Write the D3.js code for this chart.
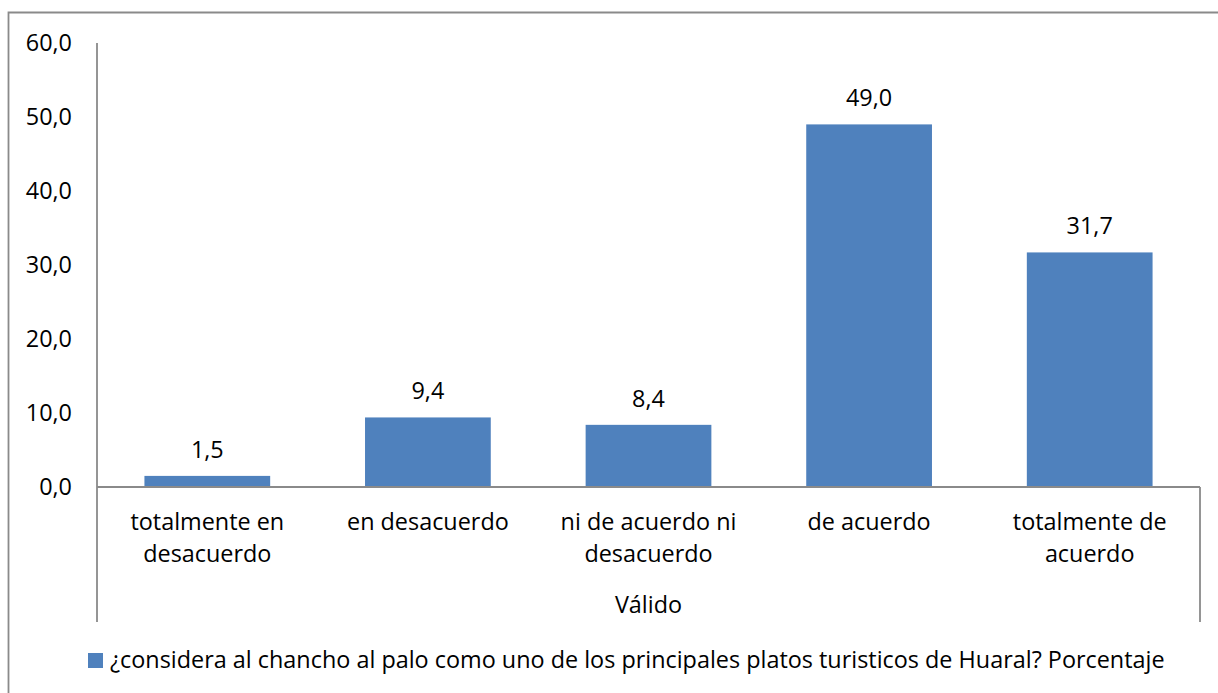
<!DOCTYPE html>
<html>
<head>
<meta charset="utf-8">
<script src="https://cdn.jsdelivr.net/npm/d3@7"></script>
<style>
  html, body { margin: 0; padding: 0; background: #fff; }
  svg { display: block; font-family: "Open Sans", "Noto Sans", sans-serif; }
</style>
</head>
<body>
<svg id="chart" width="1218" height="693"></svg>
<script>
// Survey answers and their percentages
const categories = [
  ["totalmente en", "desacuerdo"],
  ["en desacuerdo"],
  ["ni de acuerdo ni", "desacuerdo"],
  ["de acuerdo"],
  ["totalmente de", "acuerdo"]
];
const values = [1.5, 9.4, 8.4, 49.0, 31.7];
const yTicks = [0, 10, 20, 30, 40, 50, 60];
const groupLabel = "Válido";
const seriesName = "¿considera al chancho al palo como uno de los principales platos turisticos de Huaral? Porcentaje";

const W = 1218, H = 693;
const plot = { left: 97, right: 1200, top: 43, bottom: 487, axisFoot: 622 };
const barColor = "#4F81BD";
const lineColor = "#8a8a8a";
const fontSize = 23.4;

const svg = d3.select("#chart");
const comma = v => d3.format(".1f")(v).replace(".", ",");

// Outer chart frame (clipped on the right and bottom)
svg.append("path")
  .attr("d", `M8.5,${H + 2} L8.5,12.5 L${W + 2},12.5`)
  .attr("fill", "none")
  .attr("stroke", lineColor)
  .attr("stroke-width", 1.8);

const x = d3.scaleBand()
  .domain(d3.range(values.length))
  .range([plot.left, plot.right])
  .paddingInner(0.43)
  .paddingOuter(0.215);

const y = d3.scaleLinear()
  .domain([0, 60])
  .range([plot.bottom, plot.top]);

// Value axis labels
const yAxis = d3.axisLeft(y)
  .tickValues(yTicks)
  .tickFormat(comma)
  .tickSize(0)
  .tickPadding(25);
const gy = svg.append("g")
  .attr("transform", `translate(${plot.left},0)`)
  .call(yAxis);
gy.select(".domain").remove();
gy.selectAll("text")
  .attr("font-size", fontSize)
  .attr("font-family", "\"Open Sans\", sans-serif")
  .attr("fill", "#000");

// Bars
svg.append("g")
  .selectAll("rect")
  .data(values)
  .join("rect")
  .attr("x", (d, i) => x(i))
  .attr("y", d => y(d))
  .attr("width", x.bandwidth())
  .attr("height", d => y(0) - y(d))
  .attr("fill", barColor);

// Value labels above bars
svg.append("g")
  .selectAll("text")
  .data(values)
  .join("text")
  .attr("x", (d, i) => x(i) + x.bandwidth() / 2)
  .attr("y", d => y(d) - 18)
  .attr("text-anchor", "middle")
  .attr("font-size", fontSize)
  .attr("fill", "#000")
  .text(d => comma(d));

// Axis lines
const axes = svg.append("g")
  .attr("stroke", lineColor)
  .attr("stroke-width", 1.8)
  .attr("fill", "none");
axes.append("line")
  .attr("x1", plot.left).attr("x2", plot.left)
  .attr("y1", y(60)).attr("y2", plot.axisFoot);
axes.append("line")
  .attr("x1", plot.left).attr("x2", plot.right)
  .attr("y1", y(0)).attr("y2", y(0));
axes.append("line")
  .attr("x1", plot.right).attr("x2", plot.right)
  .attr("y1", y(0)).attr("y2", plot.axisFoot);

// Category labels (one or two lines)
const cat = svg.append("g")
  .selectAll("text")
  .data(categories)
  .join("text")
  .attr("x", (d, i) => x(i) + x.bandwidth() / 2)
  .attr("y", 530)
  .attr("text-anchor", "middle")
  .attr("font-size", fontSize)
  .attr("fill", "#000");
cat.selectAll("tspan")
  .data(d => d)
  .join("tspan")
  .attr("x", function () { return d3.select(this.parentNode).attr("x"); })
  .attr("dy", (d, i) => i === 0 ? 0 : 32)
  .text(d => d);

// Group label under the categories
svg.append("text")
  .attr("x", (plot.left + plot.right) / 2)
  .attr("y", 613)
  .attr("text-anchor", "middle")
  .attr("font-size", fontSize)
  .attr("fill", "#000")
  .text(groupLabel);

// Legend
const legend = svg.append("g");
legend.append("rect")
  .attr("x", 88).attr("y", 653)
  .attr("width", 15).attr("height", 15)
  .attr("fill", barColor);
legend.append("text")
  .attr("x", 110)
  .attr("y", 668)
  .attr("font-size", fontSize)
  .attr("fill", "#000")
  .text(seriesName);
</script>
</body>
</html>
